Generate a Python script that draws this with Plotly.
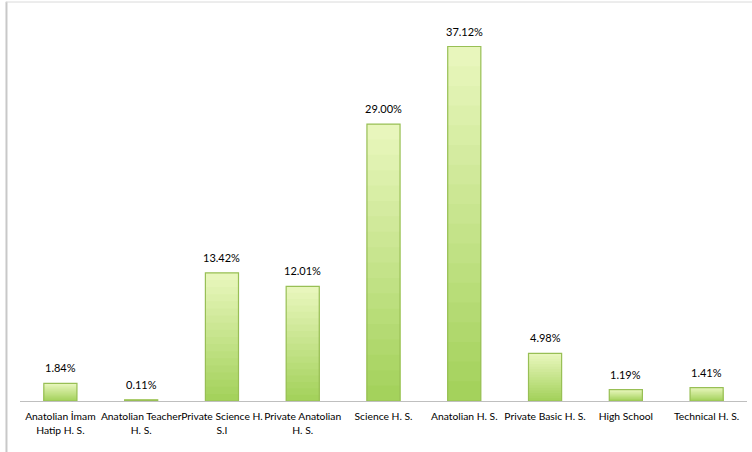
import plotly.graph_objects as go

# School types and the share of students from each
categories = [
    "Anatolian İmam<br>Hatip H. S.",
    "Anatolian Teacher<br>H. S.",
    "Private Science H.<br>S.I",
    "Private Anatolian<br>H. S.",
    "Science H. S.",
    "Anatolian H. S.",
    "Private Basic H. S.",
    "High School",
    "Technical H. S.",
]
shares = [1.84, 0.11, 13.42, 12.01, 29.00, 37.12, 4.98, 1.19, 1.41]

FONT = "Lato, Roboto, sans-serif"
BAR_WIDTH = 0.41

# Vertical gradient from a pale top to a deeper green base
top_rgb = (0xE8, 0xF6, 0xBC)
base_rgb = (0xA4, 0xD2, 0x5C)
N_STEPS = 18

fig = go.Figure()

for i in range(N_STEPS):
    frac = 1 - i / N_STEPS
    t = i / (N_STEPS - 1)
    r, g, b = (round(a + (c - a) * t) for a, c in zip(top_rgb, base_rgb))
    fig.add_trace(go.Bar(
        x=categories, y=[v * frac for v in shares], width=BAR_WIDTH,
        marker=dict(color=f"rgb({r},{g},{b})", line=dict(width=0)),
        hoverinfo="skip", showlegend=False,
    ))

# Outline drawn last so the darker edge sits above the fill
fig.add_trace(go.Bar(
    x=categories, y=shares, width=BAR_WIDTH,
    marker=dict(color="rgba(0,0,0,0)", line=dict(color="#98BF55", width=1.2)),
    hoverinfo="x+y", showlegend=False,
))

# Value labels above each bar
for c, v in zip(categories, shares):
    fig.add_annotation(
        x=c, y=v, text=f"{v:.2f}%", showarrow=False,
        yanchor="bottom", yshift=7,
        font=dict(family=FONT, size=11, color="#000000"),
    )

# Outer frame lines (left and top)
fig.add_shape(type="line", xref="paper", yref="paper",
              x0=-0.0186, x1=-0.0186, y0=-0.2, y1=1.045,
              line=dict(color="#C8C8C8", width=2))
fig.add_shape(type="line", xref="paper", yref="paper",
              x0=-0.0193, x1=1.01, y0=1.0445, y1=1.0445,
              line=dict(color="#DADADA", width=1))

fig.update_layout(
    width=752, height=452,
    margin=dict(l=20, r=5, t=19, b=51),
    barmode="overlay",
    plot_bgcolor="white", paper_bgcolor="white",
    font=dict(family=FONT, size=11, color="#000000"),
    xaxis=dict(
        showline=True, linecolor="#BFBFBF", linewidth=1,
        showgrid=False, ticks="", tickfont=dict(family=FONT, size=10.3),
        tickangle=0, ticklabelstandoff=6,
    ),
    yaxis=dict(
        range=[0, 40], visible=False, showgrid=False, zeroline=False,
    ),
)

fig.write_html("out.html")
